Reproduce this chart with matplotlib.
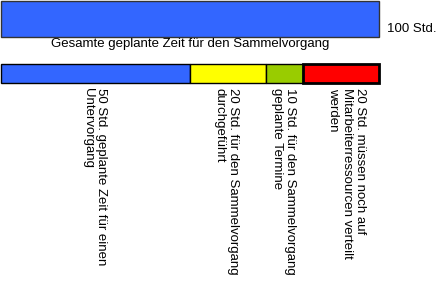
import matplotlib
matplotlib.use("Agg")
import matplotlib.pyplot as plt

# data
total_hours = 100
total_label = "100 Std."
total_caption = "Gesamte geplante Zeit für den Sammelvorgang"

seg_hours = [50, 20, 10, 20]
seg_colors = ["#3366FF", "#FFFF00", "#99CC00", "#FF0000"]
seg_labels = [
    "50 Std. geplante Zeit für einen\nUntervorgang",
    "20 Std. für den Sammelvorgang\ndurchgeführt",
    "10 Std. für den Sammelvorgang\ngeplante Termine",
    "20 Std. müssen noch auf\nMitarbeiterressourcen verteilt\nwerden",
]

plt.rcParams["font.family"] = ["Liberation Sans", "DejaVu Sans"]

W, H = 448, 298
fig = plt.figure(figsize=(W / 100, H / 100), dpi=100)
ax = fig.add_axes([0, 0, 1, 1])
px = 3.78  # pixels per hour
ax.set_xlim(-1 / px, (W - 1) / px)
ax.set_ylim(H, 0)
ax.axis("off")

# top bar: total time
ax.barh(19, total_hours, height=36, left=0, color="#3366FF",
        edgecolor="#333333", linewidth=1)
ax.text(total_hours + 2, 29, total_label, fontsize=9.5, va="center", ha="left")
ax.text(total_hours / 2, 44, total_caption, fontsize=9.5, va="center", ha="center")

# breakdown bar
left = 0
for hrs, col, lab in zip(seg_hours, seg_colors, seg_labels):
    lw = 2 if col == "#FF0000" else 1
    ax.barh(73.5, hrs, height=19, left=left, color=col,
            edgecolor="black", linewidth=lw)
    ax.text(left + hrs / 2 - 14 / px, 88, lab, fontsize=9.5, rotation=270,
            ha="left", va="top", multialignment="left", linespacing=1.15)
    left += hrs

fig.savefig("out.png", dpi=100, facecolor="white")
